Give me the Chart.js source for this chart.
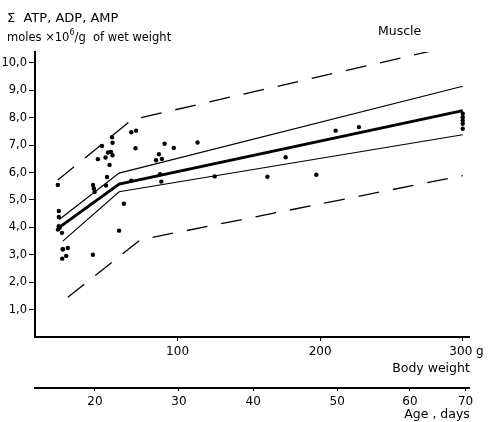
<!DOCTYPE html>
<html lang="en">
<head>
    <meta charset="UTF-8">
    <title>Muscle ATP, ADP, AMP</title>
    <style>
        body {
            margin: 0;
            background: #fff;
        }
        canvas {
            display: block;
        }
    </style>
    <script src="https://cdn.jsdelivr.net/npm/chart.js"></script>
</head>
<body>

    <canvas id="muscleChart" width="488" height="422"></canvas>

    <script>
        // Single measurements: body weight (g) and sum of ATP, ADP, AMP
        var pointWeight = [16.0, 16.7, 16.7, 16.7, 17.3, 16.1, 18.9, 19.5, 19.5, 23.0, 19.1, 21.9,
            40.6, 40.7, 41.3, 41.8, 44.1, 47.0, 49.5, 52.3, 50.5, 49.8, 54.0, 54.4, 51.2, 53.3, 54.4,
            59.0, 62.3, 67.5, 70.9, 70.5, 67.5, 84.9, 89.0, 86.9, 90.9, 97.3, 87.7, 88.6,
            114.0, 126.0, 163.0, 175.8, 197.3, 210.9, 227.2, 300, 300, 300, 300, 300];
        var pointAtp = [5.55, 4.60, 4.38, 4.04, 3.99, 3.92, 3.80, 3.20, 3.20, 3.25, 2.86, 2.96,
            3.00, 5.55, 5.42, 5.29, 6.49, 6.97, 6.55, 6.28, 5.84, 5.53, 7.29, 7.09, 6.73, 6.75, 6.63,
            3.88, 4.86, 7.47, 7.53, 6.89, 5.70, 6.45, 6.50, 6.67, 7.05, 6.90, 5.94, 5.67,
            7.10, 5.86, 5.85, 6.56, 5.92, 7.53, 7.66, 8.15, 8.02, 7.90, 7.78, 7.60];

        // Regression line with its confidence band and the outer limits
        var meanWeight = [17, 59, 300];
        var meanAtp = [4.00, 5.58, 8.26];
        var upperWeight = [17, 59, 300];
        var upperAtp = [4.29, 5.98, 9.15];
        var lowerWeight = [19.5, 59, 300];
        var lowerAtp = [3.50, 5.30, 7.38];
        var upperLimitWeight = [16, 68, 300];
        var upperLimitAtp = [5.73, 7.93, 10.70];
        var lowerLimitWeight = [23, 74, 300];
        var lowerLimitAtp = [1.45, 3.55, 5.89];

        // Axis ticks
        var atpTicks = [1, 2, 3, 4, 5, 6, 7, 8, 9, 10];
        var weightTicks = [100, 200, 300];
        var weightTickLabels = ['100', '200', '  300 g'];
        var ageTickLabels = ['20', '30', '40', '50', '60', '70'];
        var ageTickWeight = [42, 101, 153, 212, 263, 302];

        var FONT = '"DejaVu Sans", sans-serif';

        function pairs(xs, ys) {
            return xs.map(function (x, i) { return { x: x, y: ys[i] }; });
        }

        function lineSet(xs, ys, width, dash) {
            return {
                type: 'line',
                data: pairs(xs, ys),
                borderColor: '#000',
                borderWidth: width,
                borderDash: dash || [],
                pointRadius: 0,
                tension: 0,
                fill: false
            };
        }

        // Headings drawn in the free space above the plot
        var headings = {
            id: 'headings',
            afterDraw: function (chart) {
                var ctx = chart.ctx;
                ctx.save();
                ctx.fillStyle = '#000';
                ctx.textBaseline = 'alphabetic';
                ctx.textAlign = 'left';
                ctx.font = '13px ' + FONT;
                ctx.fillText('\u03A3  ATP, ADP, AMP', 7, 22);

                ctx.font = '11.5px ' + FONT;
                var x = 7;
                var part = 'moles \u00D710';
                ctx.fillText(part, x, 41);
                x += ctx.measureText(part).width;
                ctx.font = '8px ' + FONT;
                ctx.fillText('6', x, 35);
                x += ctx.measureText('6').width;
                ctx.font = '11.5px ' + FONT;
                ctx.fillText('/g  of wet weight', x, 41);

                ctx.font = '12.5px ' + FONT;
                ctx.fillText('Muscle', 378, 35);
                ctx.restore();
            }
        };

        var ctx = document.getElementById('muscleChart').getContext('2d');
        var muscleChart = new Chart(ctx, {
            data: {
                datasets: [
                    lineSet(upperLimitWeight, upperLimitAtp, 1.3, [21, 14]),
                    lineSet(lowerLimitWeight, lowerLimitAtp, 1.3, [21, 14]),
                    lineSet(upperWeight, upperAtp, 1.2),
                    lineSet(lowerWeight, lowerAtp, 1.2),
                    lineSet(meanWeight, meanAtp, 3),
                    {
                        type: 'scatter',
                        data: pairs(pointWeight, pointAtp),
                        backgroundColor: '#000',
                        borderColor: '#000',
                        pointRadius: 2.2,
                        borderWidth: 0
                    }
                ]
            },
            options: {
                responsive: false,
                animation: false,
                devicePixelRatio: 1,
                layout: {
                    padding: { left: 0, right: 18, top: 52, bottom: 0 }
                },
                plugins: {
                    legend: { display: false },
                    tooltip: { enabled: false }
                },
                scales: {
                    x: {
                        type: 'linear',
                        position: 'bottom',
                        weight: 0,
                        min: 0,
                        max: 305,
                        border: { display: true, color: '#000', width: 2 },
                        grid: { drawOnChartArea: false, drawTicks: true, tickLength: 4, tickColor: '#000', tickWidth: 1 },
                        afterBuildTicks: function (scale) {
                            scale.ticks = weightTicks.map(function (v) { return { value: v }; });
                        },
                        afterFit: function (scale) {
                            scale.height = 51;
                        },
                        ticks: {
                            autoSkip: false,
                            maxRotation: 0,
                            padding: 4,
                            color: '#000',
                            font: { family: FONT, size: 12 },
                            callback: function (value, index) {
                                return weightTickLabels[index];
                            }
                        },
                        title: {
                            display: true,
                            text: 'Body weight',
                            align: 'end',
                            color: '#000',
                            font: { family: FONT, size: 12.5 },
                            padding: { top: 0, bottom: 12 }
                        }
                    },
                    age: {
                        type: 'linear',
                        position: 'bottom',
                        axis: 'x',
                        weight: 1,
                        min: 0,
                        max: 305,
                        border: { display: true, color: '#000', width: 2 },
                        grid: { drawOnChartArea: false, drawTicks: true, tickLength: 3, tickColor: '#000', tickWidth: 1 },
                        afterBuildTicks: function (scale) {
                            scale.ticks = ageTickWeight.map(function (v) { return { value: v }; });
                        },
                        afterFit: function (scale) {
                            scale.height = 34;
                        },
                        ticks: {
                            autoSkip: false,
                            maxRotation: 0,
                            padding: 4,
                            color: '#000',
                            font: { family: FONT, size: 12 },
                            callback: function (value, index) {
                                return ageTickLabels[index];
                            }
                        },
                        title: {
                            display: true,
                            text: 'Age , days',
                            align: 'end',
                            color: '#000',
                            font: { family: FONT, size: 12.5 },
                            padding: { top: 0, bottom: 0 }
                        }
                    },
                    y: {
                        type: 'linear',
                        min: 0,
                        max: 10.4,
                        border: { display: true, color: '#000', width: 2 },
                        grid: { drawOnChartArea: false, drawTicks: true, tickLength: 6, tickColor: '#000', tickWidth: 1 },
                        afterBuildTicks: function (scale) {
                            scale.ticks = atpTicks.map(function (v) { return { value: v }; });
                        },
                        afterFit: function (scale) {
                            scale.width = 35;
                        },
                        ticks: {
                            autoSkip: false,
                            padding: 2,
                            color: '#000',
                            font: { family: FONT, size: 11.5 },
                            callback: function (value) {
                                return value.toFixed(1).replace('.', ',');
                            }
                        }
                    }
                }
            },
            plugins: [headings]
        });
    </script>

</body>
</html>
